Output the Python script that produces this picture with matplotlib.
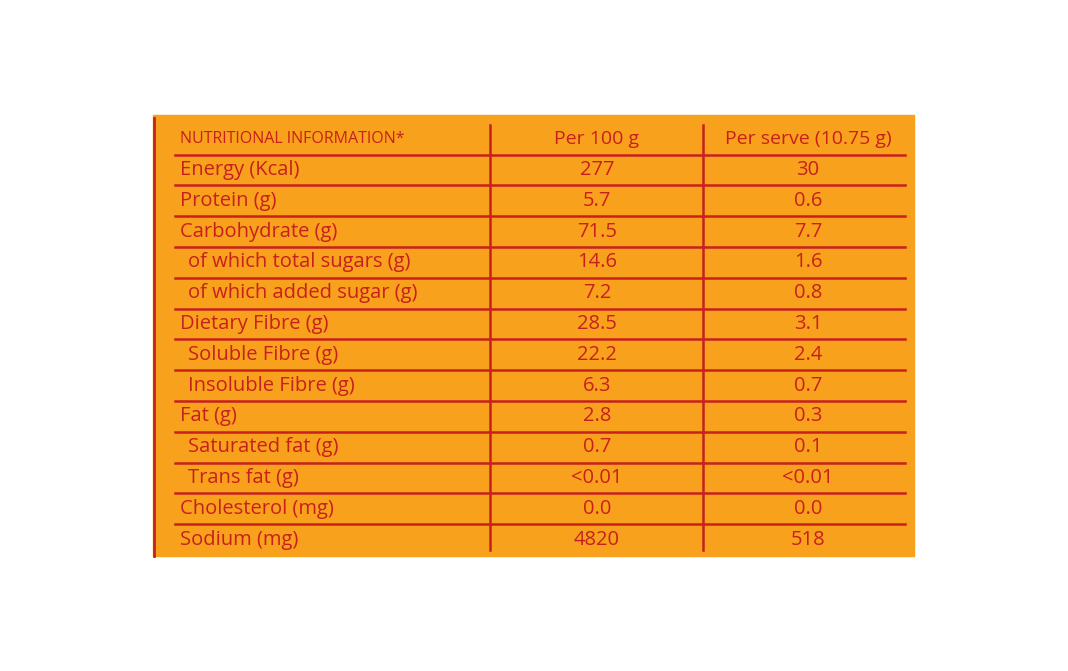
import matplotlib.pyplot as plt
from matplotlib.patches import Rectangle

# Table content
header = ["NUTRITIONAL INFORMATION*", "Per 100 g", "Per serve (10.75 g)"]
nutrients = [
    "Energy (Kcal)", "Protein (g)", "Carbohydrate (g)",
    " of which total sugars (g)", " of which added sugar (g)",
    "Dietary Fibre (g)", " Soluble Fibre (g)", " Insoluble Fibre (g)",
    "Fat (g)", " Saturated fat (g)", " Trans fat (g)",
    "Cholesterol (mg)", "Sodium (mg)",
]
per_100g = ["277", "5.7", "71.5", "14.6", "7.2", "28.5", "22.2", "6.3",
            "2.8", "0.7", "<0.01", "0.0", "4820"]
per_serve = ["30", "0.6", "7.7", "1.6", "0.8", "3.1", "2.4", "0.7",
             "0.3", "0.1", "<0.01", "0.0", "518"]

orange = "#F8A11C"
red = "#C8201E"
font = "Open Sans"

fig = plt.figure(figsize=(10.68, 6.71), dpi=100)
ax = fig.add_axes([0, 0, 1, 1])
ax.set_xlim(0, 1068)
ax.set_ylim(671, 0)
ax.axis("off")

ax.add_patch(Rectangle((153, 115), 761, 441, color=orange, zorder=0))
ax.plot([154, 154], [118, 556], color=red, lw=2, zorder=1)

header_y = 139
row0 = 170
step = 30.8
col_x = [180, 597, 808]

ax.text(col_x[0], header_y, header[0], color=red, fontsize=11.5, family=font,
        va="center", ha="left")
ax.text(col_x[1], header_y, header[1], color=red, fontsize=14, family=font,
        va="center", ha="center")
ax.text(col_x[2], header_y, header[2], color=red, fontsize=14, family=font,
        va="center", ha="center")

for i, name in enumerate(nutrients):
    y = row0 + i * step
    indent = 8 if name.startswith(" ") else 0
    ax.text(col_x[0] + indent, y, name.strip(), color=red, fontsize=14.5,
            family=font, va="center", ha="left")
    ax.text(col_x[1], y, per_100g[i], color=red, fontsize=14.5, family=font,
            va="center", ha="center")
    ax.text(col_x[2], y, per_serve[i], color=red, fontsize=14.5, family=font,
            va="center", ha="center")
    line_y = y - step / 2
    ax.plot([175, 905], [line_y, line_y], color=red, lw=1.8, zorder=1)

for x in [490, 703]:
    ax.plot([x, x], [125, 550], color=red, lw=1.8, zorder=1)

fig.savefig("out.png", dpi=100)
